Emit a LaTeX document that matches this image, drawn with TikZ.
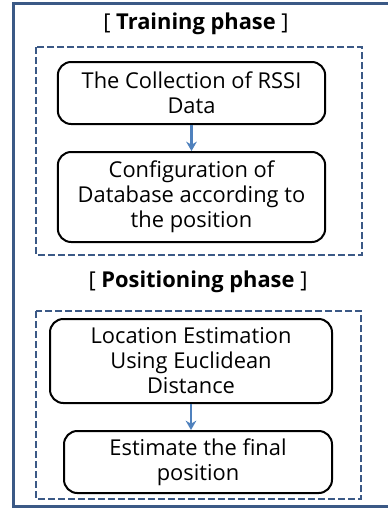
\documentclass[tikz,border=0pt]{standalone}
\usepackage{fontspec}
\setmainfont{Open Sans}
\usetikzlibrary{arrows.meta}

\definecolor{framecol}{RGB}{59,89,134}
\definecolor{arrowcol}{RGB}{79,129,189}

\tikzset{every picture/.style={line width=0.75pt}}
\tikzset{
  stepbox/.style={draw=black, line width=1.5pt, rounded corners=10pt, align=center, inner sep=0pt, font=\fontsize{16.4}{18.8}\selectfont},
  phasebox/.style={draw=framecol, line width=1.6pt, dash pattern=on 5pt off 2.5pt},
  phasetitle/.style={font=\fontsize{16.4}{18.8}\selectfont},
  flow/.style={draw=arrowcol, line width=1.9pt, -{Stealth[length=7pt,width=8pt]}}
}

\begin{document}
\begin{tikzpicture}[x=0.75pt,y=0.75pt,yscale=-1,xscale=1]
		\useasboundingbox (0,0) rectangle (388,508);

		%outer frame
		\draw [framecol, line width=2.6pt] (390,3.5) -- (13.5,3.5) -- (13.5,506.5) -- (390,506.5) ;

		%training phase
		\node [phasetitle] (train) at (196,24) {[ \textbf{Training phase} ]};
		\draw [phasebox] (36,47) rectangle (362,255) ;
		\node [stepbox, minimum width=200.5pt, minimum height=46.5pt] (collect) at (191.5,93) {The Collection of RSSI\\Data};
		\node [stepbox, minimum width=200.5pt, minimum height=67.5pt] (config) at (191.5,197) {Configuration of\\Database according to\\the position};
		\draw [flow] (collect.south) -- (config.north) ;

		%positioning phase
		\node [phasetitle] (locate) at (198,282) {[ \textbf{Positioning phase} ]};
		\draw [phasebox] (36,311) rectangle (361,499) ;
		\node [stepbox, minimum width=211.5pt, minimum height=63pt] (euclid) at (191,361) {Location Estimation\\Using Euclidean\\Distance};
		\node [stepbox, minimum width=201pt, minimum height=46.5pt] (final) at (198,462) {Estimate the final\\position};
		\draw [flow] (euclid.south) -- (euclid.south |- final.north) ;

		\end{tikzpicture}
\end{document}
